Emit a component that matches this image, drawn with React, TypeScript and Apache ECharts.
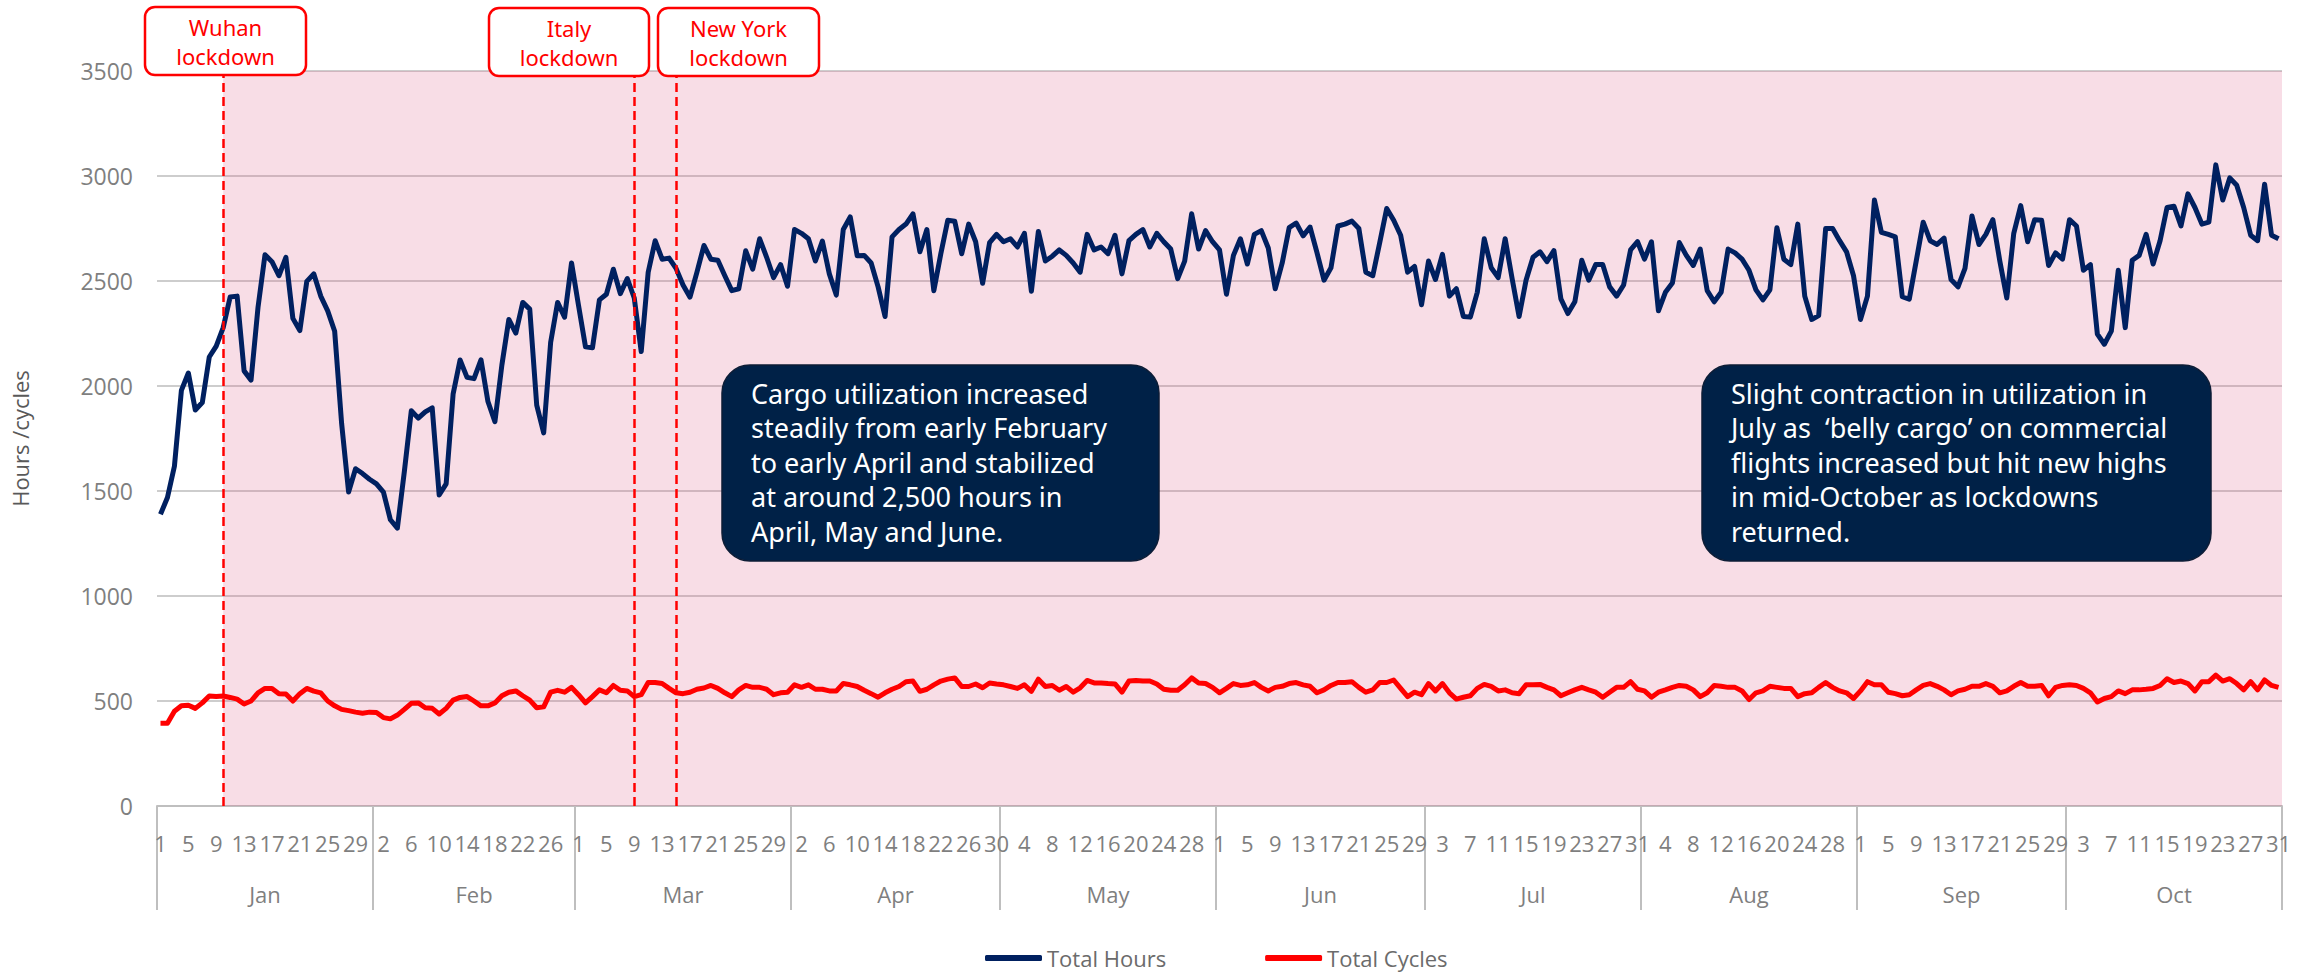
import React, { useEffect, useRef } from "react";
import * as echarts from "echarts";

const monthNames = ["Jan", "Feb", "Mar", "Apr", "May", "Jun", "Jul", "Aug", "Sep", "Oct"];
const monthDays = [31, 29, 31, 30, 31, 30, 31, 31, 30, 31];

const totalHours = [
  1389, 1469, 1618, 1979, 2062, 1886, 1921, 2138, 2190, 2278,
  2424, 2428, 2072, 2028, 2375, 2625, 2592, 2525, 2613, 2322,
  2264, 2498, 2534, 2428, 2358, 2261, 1821, 1495, 1606, 1583,
  1556, 1534, 1495, 1363, 1323, 1592, 1882, 1847, 1877, 1896,
  1481, 1534, 1962, 2124, 2041, 2035, 2125, 1926, 1830, 2100,
  2317, 2252, 2398, 2366, 1909, 1777, 2208, 2398, 2328, 2586,
  2384, 2187, 2182, 2410, 2437, 2556, 2440, 2512, 2419, 2164,
  2542, 2692, 2604, 2609, 2560, 2481, 2423, 2542, 2669, 2604,
  2599, 2525, 2454, 2463, 2644, 2556, 2701, 2613, 2516, 2578,
  2475, 2745, 2727, 2701, 2595, 2690, 2534, 2433, 2745, 2805,
  2620, 2622, 2586, 2472, 2331, 2710, 2745, 2771, 2820, 2639,
  2745, 2454, 2630, 2789, 2785, 2630, 2771, 2687, 2489, 2683,
  2722, 2687, 2701, 2662, 2727, 2451, 2736, 2595, 2618, 2648,
  2622, 2586, 2542, 2722, 2648, 2662, 2630, 2718, 2534, 2692,
  2722, 2745, 2662, 2727, 2687, 2652, 2511, 2595, 2820, 2652,
  2740, 2687, 2648, 2437, 2622, 2701, 2581, 2722, 2740, 2657,
  2463, 2586, 2754, 2776, 2715, 2757, 2634, 2504, 2563, 2762,
  2771, 2785, 2750, 2542, 2525, 2683, 2845, 2789, 2718, 2542,
  2569, 2387, 2595, 2507, 2627, 2428, 2463, 2331, 2328, 2446,
  2701, 2563, 2516, 2701, 2511, 2331, 2504, 2613, 2639, 2592,
  2645, 2415, 2345, 2401, 2599, 2504, 2578, 2578, 2472, 2428,
  2481, 2648, 2687, 2604, 2687, 2358, 2446, 2490, 2683, 2622,
  2574, 2652, 2454, 2401, 2446, 2652, 2634, 2604, 2551, 2458,
  2410, 2458, 2754, 2604, 2578, 2771, 2428, 2317, 2335, 2750,
  2750, 2692, 2639, 2525, 2317, 2428, 2886, 2732, 2722, 2710,
  2425, 2413, 2595, 2780, 2692, 2674, 2704, 2507, 2472, 2560,
  2810, 2674, 2722, 2792, 2595, 2419, 2727, 2859, 2687, 2792,
  2789, 2574, 2634, 2604, 2792, 2762, 2551, 2578, 2247, 2199,
  2261, 2551, 2278, 2599, 2622, 2722, 2581, 2692, 2850, 2856,
  2762, 2915, 2850, 2771, 2780, 3053, 2886, 2991, 2956, 2850,
  2718, 2692, 2961, 2718, 2701,
];

const totalCycles = [
  394, 394, 451, 477, 480, 465, 491, 524, 521, 524,
  517, 509, 486, 500, 539, 560, 560, 535, 533, 500,
  535, 560, 547, 539, 500, 477, 460, 454, 447, 442,
  447, 445, 421, 415, 433, 460, 489, 491, 468, 465,
  438, 465, 504, 517, 521, 500, 477, 477, 491, 525,
  542, 548, 525, 504, 468, 472, 542, 551, 542, 565,
  530, 491, 521, 553, 539, 574, 551, 548, 521, 530,
  588, 588, 583, 560, 539, 535, 542, 556, 562, 574,
  560, 539, 521, 553, 574, 565, 565, 556, 530, 539,
  542, 577, 565, 577, 556, 556, 548, 548, 583, 577,
  569, 551, 535, 518, 539, 556, 569, 592, 595, 546,
  556, 577, 595, 604, 610, 569, 569, 581, 563, 586,
  581, 577, 569, 560, 577, 546, 604, 569, 574, 551,
  569, 542, 563, 598, 586, 586, 583, 581, 542, 595,
  598, 595, 595, 581, 556, 551, 551, 577, 610, 586,
  583, 565, 539, 560, 583, 574, 577, 588, 565, 548,
  565, 570, 583, 588, 577, 570, 539, 553, 574, 588,
  588, 592, 565, 542, 553, 588, 588, 600, 560, 521,
  542, 530, 583, 548, 583, 539, 509, 518, 525, 560,
  579, 570, 548, 553, 539, 535, 577, 577, 579, 565,
  553, 525, 539, 553, 565, 553, 542, 518, 542, 565,
  565, 592, 556, 548, 518, 542, 553, 565, 574, 570,
  553, 521, 539, 574, 570, 565, 565, 548, 507, 539,
  548, 570, 565, 560, 560, 521, 535, 539, 565, 588,
  565, 548, 539, 512, 548, 592, 577, 577, 542, 535,
  525, 530, 553, 574, 583, 570, 553, 530, 548, 556,
  570, 570, 583, 570, 539, 548, 570, 588, 570, 570,
  574, 525, 565, 574, 577, 574, 560, 539, 495, 512,
  521, 548, 535, 553, 553, 556, 560, 574, 606, 588,
  595, 583, 548, 592, 592, 623, 595, 606, 583, 553,
  592, 553, 600, 574, 565,
];

const eventDates = ["Jan 10", "Mar 9", "Mar 15"];
const eventNames = ["Wuhan\nlockdown", "Italy\nlockdown", "New York\nlockdown"];

const yTicks = [0, 500, 1000, 1500, 2000, 2500, 3000, 3500];

const noteLeft = [
  "Cargo utilization increased",
  "steadily from early February",
  "to early April and stabilized",
  "at around 2,500 hours in",
  "April, May and June.",
];
const noteRight = [
  "Slight contraction in utilization in",
  "July as  \u2018belly cargo\u2019 on commercial",
  "flights increased but hit new highs",
  "in mid-October as lockdowns",
  "returned.",
];

const FONT = '"Open Sans", "Noto Sans", sans-serif';
const BOX_FONT = '"Noto Sans", "Open Sans", sans-serif';

export default function App() {
  const ref = useRef<HTMLDivElement>(null);

  useEffect(() => {
    document.body.style.margin = "0";
    if (!ref.current) return;
    const chart = echarts.init(ref.current, undefined, { renderer: "svg" });

    const categories: string[] = [];
    monthNames.forEach((m, k) => {
      for (let d = 1; d <= monthDays[k]; d++) categories.push(`${m} ${d}`);
    });
    const monthStarts: number[] = [];
    let acc = 0;
    monthDays.forEach((n) => {
      monthStarts.push(acc);
      acc += n;
    });
    const totalDays = acc;
    const monthBounds = [...monthStarts, totalDays];
    const monthCenters = monthStarts.map((s, k) => s + monthDays[k] / 2);
    const eventIdx = eventDates.map((d) => categories.indexOf(d));

    const annBoxes = [
      { x: 145, y: 7, w: 161, h: 68 },
      { x: 489, y: 8, w: 160, h: 68 },
      { x: 658, y: 8, w: 161, h: 68 },
    ];

    const graphic: any[] = [];
    annBoxes.forEach((b, k) => {
      graphic.push({
        type: "rect",
        z: 100,
        shape: { x: b.x, y: b.y, width: b.w, height: b.h, r: 10 },
        style: { fill: "#ffffff", stroke: "#ff0000", lineWidth: 2.5 },
      });
      graphic.push({
        type: "text",
        z: 101,
        x: b.x + b.w / 2,
        y: b.y + 5,
        style: {
          text: eventNames[k],
          fill: "#ff0000",
          fontSize: 22,
          fontFamily: BOX_FONT,
          lineHeight: 29,
          align: "center",
          verticalAlign: "top",
        },
      });
    });
    const notes = [
      { x: 722, y: 365, w: 437, h: 196, lines: noteLeft },
      { x: 1702, y: 365, w: 509, h: 196, lines: noteRight },
    ];
    notes.forEach((n) => {
      graphic.push({
        type: "rect",
        z: 100,
        shape: { x: n.x, y: n.y, width: n.w, height: n.h, r: 28 },
        style: { fill: "#002147", stroke: "#0d1d36", lineWidth: 1.5 },
      });
      graphic.push({
        type: "text",
        z: 101,
        x: n.x + 29,
        y: n.y + 11,
        style: {
          text: n.lines.join("\n"),
          fill: "#ffffff",
          fontSize: 27,
          fontFamily: BOX_FONT,
          lineHeight: 34.5,
          align: "left",
          verticalAlign: "top",
        },
      });
    });

    const option: any = {
      animation: false,
      backgroundColor: "#ffffff",
      grid: { left: 157, right: 23, top: 71, bottom: 167, containLabel: false },
      legend: {
        left: 980,
        top: 940,
        itemWidth: 57,
        itemHeight: 6,
        itemGap: 99,
        icon: "roundRect",
        data: ["Total Hours", "Total Cycles"],
        textStyle: { color: "#6b6b6b", fontSize: 22, fontFamily: FONT, lineHeight: 26 },
      },
      xAxis: [
        {
          type: "category",
          data: categories,
          boundaryGap: true,
          position: "bottom",
          axisLine: { show: true, lineStyle: { color: "#bfbfbf", width: 2 } },
          axisTick: { show: false },
          splitLine: { show: false },
          axisLabel: {
            interval: 3,
            color: "#7f7f7f",
            fontSize: 22,
            lineHeight: 22,
            fontFamily: FONT,
            margin: 26,
            formatter: (v: string) => v.split(" ")[1],
          },
        },
        {
          type: "value",
          min: 0,
          max: totalDays,
          position: "bottom",
          axisLine: { show: false },
          splitLine: { show: false },
          axisTick: {
            show: true,
            customValues: monthBounds,
            length: 104,
            lineStyle: { color: "#bfbfbf", width: 2 },
          },
          axisLabel: {
            customValues: monthCenters,
            color: "#7f7f7f",
            fontSize: 22,
            lineHeight: 22,
            fontFamily: FONT,
            margin: 77,
            formatter: (v: number) => {
              const k = monthCenters.findIndex((c) => Math.abs(c - v) < 0.01);
              return k >= 0 ? monthNames[k] : "";
            },
          },
        },
      ],
      yAxis: {
        type: "value",
        min: yTicks[0],
        max: yTicks[yTicks.length - 1],
        interval: yTicks[1] - yTicks[0],
        name: "Hours /cycles",
        nameLocation: "middle",
        nameGap: 126,
        nameTextStyle: { color: "#595959", fontSize: 22, fontFamily: FONT },
        axisLine: { show: false },
        axisTick: { show: false },
        axisLabel: {
          color: "#7f7f7f",
          fontSize: 23,
          fontFamily: FONT,
          margin: 24,
          formatter: (v: number) => String(v),
        },
        splitLine: { lineStyle: { color: "#cdcdcd", width: 2 } },
      },
      series: [
        {
          type: "line",
          xAxisIndex: 1,
          data: [],
          silent: true,
          markArea: {
            silent: true,
            itemStyle: { color: "rgba(220,85,130,0.2)" },
            data: [[{ xAxis: eventIdx[0] + 0.5 }, { xAxis: totalDays }]],
          },
        },
        {
          name: "Total Hours",
          type: "line",
          data: totalHours,
          symbol: "none",
          showSymbol: false,
          lineStyle: { color: "#002060", width: 5, join: "round" },
          itemStyle: { color: "#002060" },
          z: 4,
          markLine: {
            symbol: "none",
            silent: true,
            label: { show: false },
            lineStyle: { color: "#ff0000", width: 2.5, type: [9, 5] },
            data: eventIdx.map((i) => ({ xAxis: i })),
          },
        },
        {
          name: "Total Cycles",
          type: "line",
          data: totalCycles,
          symbol: "none",
          showSymbol: false,
          lineStyle: { color: "#ff0000", width: 5, join: "round" },
          itemStyle: { color: "#ff0000" },
          z: 4,
        },
      ],
      graphic,
    };

    chart.setOption(option);
    return () => chart.dispose();
  }, []);

  return (
    <div
      ref={ref}
      style={{ position: "absolute", left: 0, top: 0, width: 2305, height: 973 }}
    />
  );
}
